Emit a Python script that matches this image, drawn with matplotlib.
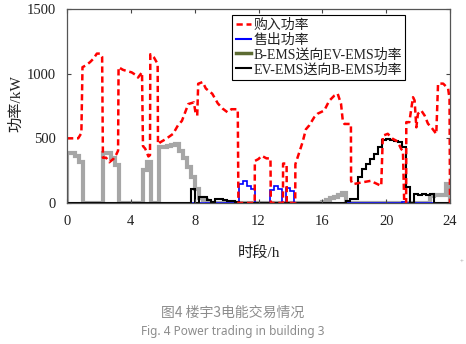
import numpy as np
import matplotlib
matplotlib.use('Agg')
import matplotlib.pyplot as plt
from matplotlib.lines import Line2D
from matplotlib import font_manager

# serif for latin text, CJK family for the Chinese glyphs
installed = {f.name for f in font_manager.fontManager.ttflist}
serif = [n for n in ['Liberation Serif', 'DejaVu Serif'] if n in installed]
plt.rcParams['font.family'] = serif[:1] + ['Noto Sans CJK SC']

# quarter-hour bins over one day
edges = np.arange(97) * 0.25

# purchase power, breakpoints (h, kW)
buy_t = [0.0, 0.7, 0.8, 0.9, 0.97, 1.2, 1.45, 1.65, 1.87, 2.08, 2.2, 2.25, 2.45, 2.65,
         2.9, 3.1, 3.2, 3.23, 3.5, 3.75, 4.05, 4.3, 4.45, 4.7, 4.76, 4.9, 5.1, 5.2,
         5.22, 5.45, 5.68, 5.7, 5.85, 6.2, 6.65, 6.95, 7.2, 7.4, 7.6, 7.95, 8.05, 8.16,
         8.22, 8.5, 8.7, 9.1, 9.45, 9.75, 10.05, 10.3, 10.7, 10.74, 11.76, 11.77, 12.0,
         12.2, 12.5, 12.75, 12.77, 13.53, 13.54, 13.76, 13.77, 14.3, 14.31, 14.55, 14.76,
         14.97, 15.18, 15.49, 15.7, 16.12, 16.43, 16.75, 16.96, 17.17, 17.28, 17.38,
         17.79, 17.8, 17.9, 18.43, 19.06, 19.25, 19.69, 19.79, 20.1, 20.42, 20.63, 20.84,
         20.94, 21.05, 21.13, 21.25, 21.26, 21.45, 21.68, 21.78, 21.89, 21.99, 22.2,
         22.41, 22.62, 22.83, 23.14, 23.25, 23.57, 23.88, 23.97, 24.0]
buy_p = [500, 500, 520, 540, 1050, 1065, 1090, 1115, 1155, 1155, 1130, 350, 350, 315,
         340, 378, 405, 1050, 1030, 1020, 1010, 990, 970, 1010, 440, 420, 360, 370,
         1150, 1125, 1075, 455, 470, 495, 535, 600, 635, 700, 765, 778, 700, 676,
         922, 935, 885, 845, 770, 730, 702, 725, 725, 0, 0, 325, 340,
         365, 345, 345, 0, 0, 305, 305, 0, 0, 300, 390, 470,
         570, 600, 663, 690, 715, 790, 830, 845, 767, 637, 611,
         611, 172, 145, 158, 172, 158, 132, 520, 535, 495, 482, 443,
         417, 404, 0, 0, 625, 625, 818, 793, 585, 690, 715,
         676, 613, 585, 534, 923, 923, 885, 806, 0]

# sell power per quarter hour
sell = [0] * 43 + [148,
        172, 135, 108, 0,
        0, 0, 0, 100,
        133, 108, 0, 115,
        95] + [0] * 27 + [4] + [0] * 11

# B-EMS -> EV-EMS power per quarter hour
b_to_ev = [385, 385, 360, 315,
           0, 0, 0, 0,
           0, 385, 385, 345,
           290, 0, 0, 0,
           0, 0, 0, 255,
           320, 0, 0, 430,
           430, 440, 450, 455,
           405, 350, 275, 200,
           110, 40, 20, 0,
           0, 0, 0, 0,
           0, 0, 0, 0,
           0, 0, 0, 0,
           0, 0, 0, 0,
           0, 0, 0, 0,
           0, 0, 0, 0,
           0, 0, 0, 0,
           10, 20, 35, 45,
           60, 75, 0, 0,
           0, 0, 0, 0,
           0, 0, 0, 0,
           0, 0, 0, 0,
           0, 0, 0, 0,
           0, 0, 0, 55,
           60, 60, 62, 150]

# EV-EMS -> B-EMS power per quarter hour
ev_to_b = [0, 0, 0, 0] * 7 + [0, 0, 0, 105,
           0, 45, 45, 25,
           10, 32, 28, 25,
           18, 12, 5, 0] + [0, 0, 0, 0] * 6 + [0, 0, 15, 30,
           30, 200, 263, 302,
           340, 378, 430, 490,
           495, 485, 482, 470,
           430, 122, 0, 68,
           58, 68, 60, 68,
           0, 0, 0, 0]

labels = ['购入功率', '售出功率', 'B-EMS送向EV-EMS功率', 'EV-EMS送向B-EMS功率']

fig = plt.figure(figsize=(4.66, 3.44), dpi=100)
ax = fig.add_axes([0.1438, 0.4099, 0.8219, 0.564])

ax.stairs(b_to_ev, edges, baseline=0, color='#a6a6a6', lw=3.0)
ax.plot(buy_t, buy_p, color='red', lw=1.8, dashes=(2.5, 1.5))
ax.stairs(sell, edges, baseline=0, color='blue', lw=1.2)
ax.stairs(ev_to_b, edges, baseline=0, color='black', lw=1.5)

ax.set_xlim(0, 24)
ax.set_ylim(0, 1500)
ax.set_xticks(range(0, 25, 4))
ax.set_yticks([0, 500, 1000, 1500])
ax.tick_params(direction='in', top=True, right=True, length=3, width=0.8,
               color='#444444', labelsize=10.5, labelcolor='#222222')
ax.tick_params(axis='x', pad=9)
ax.tick_params(axis='y', pad=8)
for s in ax.spines.values():
    s.set_color('#555555')
    s.set_linewidth(0.9)

ax.set_xlabel('时段/h', fontsize=11, color='#222222')
ax.xaxis.set_label_coords(0.5, -0.22)
ax.set_ylabel('功率/kW', fontsize=11, color='#222222')
ax.yaxis.set_label_coords(-0.115, 0.51)

handles = [Line2D([], [], color='red', lw=1.8, dashes=(2.5, 1.5)),
           Line2D([], [], color='blue', lw=1.5),
           Line2D([], [], color='#5c6b32', lw=2.5),
           Line2D([], [], color='black', lw=1.5)]
leg = ax.legend(handles, labels, loc='upper right', bbox_to_anchor=(0.8825, 0.969),
                borderaxespad=0, fontsize=10, handlelength=1.1, handletextpad=0.15,
                labelspacing=0.12, borderpad=0.25, fancybox=False, framealpha=1)
leg.get_frame().set_edgecolor('black')
leg.get_frame().set_linewidth(0.8)
for t in leg.get_texts():
    t.set_color('#222222')

fig.text(462 / 466, 1 - 262 / 344, '+', fontsize=5, color='#999999',
         ha='center', va='center')
fig.text(0.5, 1 - 313 / 344, '图4 楼宇3电能交易情况', fontsize=10,
         color='#8c8c8c', ha='center', va='center', family=['Noto Sans CJK SC'])
fig.text(0.5, 1 - 331 / 344, 'Fig. 4 Power trading in building 3', fontsize=8.5,
         color='#8c8c8c', ha='center', va='center', family=['Noto Sans', 'DejaVu Sans'])

fig.savefig('out.png', dpi=100)
